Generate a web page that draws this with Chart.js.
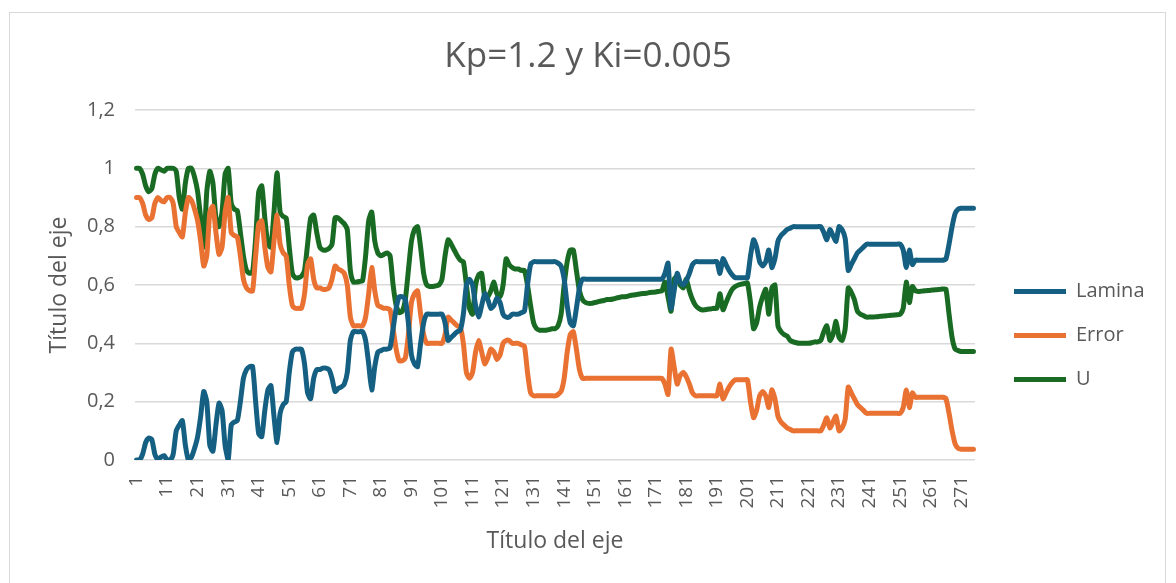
<!DOCTYPE html>
<html>
<head>
<meta charset="utf-8">
<script src="https://cdn.jsdelivr.net/npm/chart.js@4.4.1/dist/chart.umd.min.js"></script>
<style>
  html, body { margin: 0; padding: 0; background: #ffffff; }
  #frame { position: absolute; left: 9px; top: 12px; width: 1157px; height: 600px; border: 1px solid #d9d9d9; box-sizing: border-box; }
  #wrap { position: absolute; left: 0; top: 0; width: 1176px; height: 583px; }
</style>
</head>
<body>
<div id="frame"></div>
<div id="wrap"><canvas id="c"></canvas></div>
<script>
const chartTitle = 'Kp=1.2 y Ki=0.005';
const xAxisTitle = 'Título del eje';
const yAxisTitle = 'Título del eje';
const seriesNames = ['Lamina', 'Error', 'U'];
const yTicks = [0, 0.2, 0.4, 0.6, 0.8, 1, 1.2];

const lamina = [
  0, 0, 0.02, 0.06, 0.075, 0.07, 0.02, 0.0, 0.01, 0.015,
  0.0, 0.0, 0.02, 0.10, 0.12, 0.135, 0.05, 0.0, 0.01, 0.04,
  0.08, 0.15, 0.235, 0.2, 0.05, 0.03, 0.12, 0.195, 0.17, 0.05,
  0.0, 0.12, 0.13, 0.135, 0.2, 0.28, 0.31, 0.32, 0.32, 0.2,
  0.09, 0.08, 0.17, 0.24, 0.255, 0.15, 0.06, 0.16, 0.19, 0.2,
  0.3, 0.37, 0.38, 0.38, 0.38, 0.33, 0.23, 0.21, 0.28, 0.31,
  0.31, 0.315, 0.315, 0.31, 0.28, 0.235, 0.245, 0.25, 0.26, 0.3,
  0.41, 0.44, 0.44, 0.44, 0.44, 0.41, 0.33, 0.24, 0.32, 0.37,
  0.375, 0.38, 0.38, 0.385, 0.45, 0.52, 0.56, 0.56, 0.55, 0.47,
  0.36, 0.33, 0.32, 0.4, 0.47, 0.5, 0.5, 0.5, 0.5, 0.5,
  0.5, 0.47, 0.41, 0.42, 0.43, 0.44, 0.445, 0.5, 0.6, 0.62,
  0.6, 0.53, 0.49, 0.53, 0.57, 0.55, 0.52, 0.53, 0.555, 0.54,
  0.5, 0.49, 0.49, 0.5, 0.5, 0.5, 0.505, 0.51, 0.6, 0.67,
  0.68, 0.68, 0.68, 0.68, 0.68, 0.68, 0.68, 0.68, 0.675, 0.665,
  0.62, 0.53, 0.47, 0.46, 0.52, 0.59, 0.62, 0.62, 0.62, 0.62,
  0.62, 0.62, 0.62, 0.62, 0.62, 0.62, 0.62, 0.62, 0.62, 0.62,
  0.62, 0.62, 0.62, 0.62, 0.62, 0.62, 0.62, 0.62, 0.62, 0.62,
  0.62, 0.62, 0.62, 0.64, 0.675, 0.52, 0.58, 0.64, 0.61, 0.6,
  0.615, 0.64, 0.67, 0.68, 0.68, 0.68, 0.68, 0.68, 0.68, 0.68,
  0.68, 0.64, 0.69, 0.67, 0.65, 0.635, 0.625, 0.625, 0.625, 0.625,
  0.625, 0.7, 0.755, 0.73, 0.68, 0.665, 0.68, 0.72, 0.66, 0.69,
  0.75, 0.77, 0.78, 0.79, 0.795, 0.8, 0.8, 0.8, 0.8, 0.8,
  0.8, 0.8, 0.8, 0.8, 0.8, 0.78, 0.755, 0.79, 0.77, 0.75,
  0.8, 0.79, 0.76, 0.65, 0.67, 0.69, 0.71, 0.72, 0.73, 0.74,
  0.74, 0.74, 0.74, 0.74, 0.74, 0.74, 0.74, 0.74, 0.74, 0.74,
  0.74, 0.72, 0.66, 0.72, 0.67, 0.685, 0.685, 0.685, 0.685, 0.685,
  0.685, 0.685, 0.685, 0.685, 0.685, 0.69, 0.74, 0.8, 0.845, 0.86,
  0.863, 0.863, 0.863, 0.863, 0.863
];

const error = [
  0.9, 0.9, 0.88, 0.84, 0.825, 0.83, 0.88, 0.9, 0.89, 0.885,
  0.9, 0.9, 0.88, 0.8, 0.78, 0.765, 0.85, 0.9, 0.89, 0.86,
  0.82, 0.75, 0.665, 0.7, 0.85, 0.87, 0.78, 0.705, 0.73, 0.85,
  0.9, 0.78, 0.77, 0.765, 0.7, 0.62, 0.59, 0.58, 0.58, 0.7,
  0.81, 0.82, 0.73, 0.66, 0.645, 0.75, 0.84, 0.74, 0.71, 0.7,
  0.6, 0.53, 0.52, 0.52, 0.52, 0.57, 0.67, 0.69, 0.62, 0.59,
  0.59, 0.585, 0.585, 0.59, 0.62, 0.665, 0.655, 0.65, 0.64, 0.6,
  0.49, 0.46, 0.46, 0.46, 0.46, 0.49, 0.57, 0.66, 0.58, 0.53,
  0.525, 0.52, 0.52, 0.515, 0.45, 0.38, 0.34, 0.34, 0.35, 0.43,
  0.54, 0.57, 0.58, 0.5, 0.43, 0.4, 0.4, 0.4, 0.4, 0.4,
  0.4, 0.43, 0.49, 0.48, 0.47, 0.46, 0.455, 0.4, 0.3, 0.28,
  0.3, 0.37, 0.41, 0.37, 0.33, 0.35, 0.38, 0.37, 0.345, 0.36,
  0.4, 0.41, 0.41, 0.4, 0.4, 0.4, 0.395, 0.39, 0.3, 0.23,
  0.22, 0.22, 0.22, 0.22, 0.22, 0.22, 0.22, 0.22, 0.225, 0.235,
  0.28, 0.37, 0.43, 0.44, 0.38, 0.31, 0.28, 0.28, 0.28, 0.28,
  0.28, 0.28, 0.28, 0.28, 0.28, 0.28, 0.28, 0.28, 0.28, 0.28,
  0.28, 0.28, 0.28, 0.28, 0.28, 0.28, 0.28, 0.28, 0.28, 0.28,
  0.28, 0.28, 0.28, 0.26, 0.225, 0.38, 0.32, 0.26, 0.29, 0.3,
  0.285, 0.26, 0.23, 0.22, 0.22, 0.22, 0.22, 0.22, 0.22, 0.22,
  0.22, 0.26, 0.21, 0.23, 0.25, 0.265, 0.275, 0.275, 0.275, 0.275,
  0.275, 0.2, 0.145, 0.17, 0.22, 0.235, 0.22, 0.18, 0.24, 0.21,
  0.15, 0.13, 0.12, 0.11, 0.105, 0.1, 0.1, 0.1, 0.1, 0.1,
  0.1, 0.1, 0.1, 0.1, 0.1, 0.12, 0.145, 0.11, 0.13, 0.15,
  0.1, 0.11, 0.14, 0.25, 0.23, 0.21, 0.19, 0.18, 0.17, 0.16,
  0.16, 0.16, 0.16, 0.16, 0.16, 0.16, 0.16, 0.16, 0.16, 0.16,
  0.16, 0.18, 0.24, 0.18, 0.23, 0.215, 0.215, 0.215, 0.215, 0.215,
  0.215, 0.215, 0.215, 0.215, 0.215, 0.21, 0.16, 0.1, 0.055, 0.04,
  0.037, 0.037, 0.037, 0.037, 0.037
];

const u = [
  1.0, 1.0, 0.98, 0.94, 0.92, 0.93, 0.98, 1.0, 0.995, 0.99,
  1.0, 1.0, 1.0, 0.99, 0.9, 0.86, 0.95, 1.0, 1.0, 0.97,
  0.92, 0.83, 0.73, 0.92, 0.99, 0.95, 0.83, 0.8, 0.85, 0.98,
  1.0, 0.88, 0.86, 0.855, 0.78, 0.7, 0.65, 0.64, 0.645, 0.76,
  0.92, 0.94, 0.83, 0.74, 0.73, 0.85, 0.985, 0.85, 0.835, 0.83,
  0.73, 0.64, 0.625, 0.625, 0.63, 0.65, 0.74, 0.83, 0.84, 0.78,
  0.73, 0.72, 0.72, 0.725, 0.74, 0.83, 0.83, 0.82, 0.81, 0.79,
  0.65, 0.61, 0.61, 0.612, 0.615, 0.7, 0.82, 0.85, 0.75, 0.71,
  0.7, 0.705, 0.71, 0.7, 0.6, 0.53, 0.505, 0.51, 0.55, 0.65,
  0.75, 0.79, 0.8, 0.73, 0.64, 0.6, 0.595, 0.595, 0.597, 0.6,
  0.62, 0.7, 0.755, 0.74, 0.72, 0.7, 0.685, 0.68, 0.6, 0.52,
  0.5, 0.6, 0.635, 0.64, 0.56, 0.56, 0.58, 0.61, 0.57, 0.56,
  0.6, 0.69, 0.67, 0.66, 0.655, 0.655, 0.65, 0.65, 0.6, 0.53,
  0.47, 0.45, 0.445, 0.445, 0.445, 0.447, 0.45, 0.45, 0.46, 0.5,
  0.6, 0.68, 0.72, 0.72, 0.65, 0.58, 0.55, 0.54, 0.537, 0.537,
  0.54, 0.542, 0.545, 0.547, 0.55, 0.55, 0.552, 0.555, 0.557, 0.56,
  0.56, 0.562, 0.565, 0.566, 0.568, 0.57, 0.571, 0.572, 0.574, 0.575,
  0.576, 0.578, 0.58, 0.61, 0.56, 0.51, 0.62, 0.63, 0.6, 0.59,
  0.62, 0.58, 0.55, 0.53, 0.52, 0.515, 0.515, 0.517, 0.518, 0.52,
  0.52, 0.57, 0.515, 0.54, 0.565, 0.585, 0.595, 0.6, 0.603, 0.605,
  0.607, 0.54, 0.45, 0.47, 0.525, 0.56, 0.585, 0.5, 0.59, 0.6,
  0.46, 0.44, 0.43, 0.425, 0.41, 0.405, 0.402, 0.4, 0.4, 0.4,
  0.4, 0.402, 0.405, 0.405, 0.41, 0.44, 0.46, 0.41, 0.43, 0.475,
  0.42, 0.41, 0.45, 0.59, 0.575, 0.55, 0.51, 0.5, 0.495, 0.49,
  0.49, 0.49, 0.491, 0.492, 0.493, 0.494, 0.495, 0.496, 0.497, 0.498,
  0.5, 0.52, 0.61, 0.54, 0.595, 0.58, 0.578, 0.579, 0.58, 0.581,
  0.582, 0.583, 0.584, 0.585, 0.586, 0.585, 0.5, 0.42, 0.38, 0.375,
  0.372, 0.372, 0.372, 0.372, 0.372
];

const categories = [];
for (let i = 1; i <= lamina.length; i++) categories.push(String(i));

const colors = ['#156082', '#E97132', '#196B24'];
const textColor = '#595959';
const fontFamily = '"Open Sans", "Liberation Sans", Arial, sans-serif';

function ds(label, data, color) {
  return {
    label, data,
    borderColor: color, backgroundColor: color,
    borderWidth: 5, pointRadius: 0, pointHoverRadius: 0,
    tension: 0.2, borderJoinStyle: 'round', borderCapStyle: 'round',
    pointStyle: 'line'
  };
}

const legendShift = {
  id: 'legendShift',
  beforeInit(chart) {
    const lg = chart.legend;
    if (!lg) return;
    const fit = lg.fit;
    lg.fit = function () { fit.call(this); if (!this.isHorizontal()) this.width = 201; };
  },
  afterLayout(chart) {
    const lg = chart.legend;
    if (!lg) return;
    lg.left += 15; lg.right += 15;
    lg.top += 44; lg.bottom += 44;
  }
};

new Chart(document.getElementById('c'), {
  type: 'line',
  data: {
    labels: categories,
    datasets: [
      ds(seriesNames[0], lamina, colors[0]),
      ds(seriesNames[1], error, colors[1]),
      ds(seriesNames[2], u, colors[2])
    ]
  },
  plugins: [legendShift],
  options: {
    responsive: true,
    maintainAspectRatio: false,
    animation: false,
    layout: { padding: { left: 0, right: 0, top: 0, bottom: 0 } },
    plugins: {
      title: {
        display: true, text: chartTitle, color: textColor,
        font: { family: fontFamily, size: 35, weight: 'normal' },
        padding: { top: 36, bottom: 32 }
      },
      legend: {
        position: 'right',
        labels: {
          color: textColor,
          font: { family: fontFamily, size: 20 },
          usePointStyle: true, pointStyle: 'line', pointStyleWidth: 52,
          padding: 24
        }
      },
      tooltip: { enabled: false }
    },
    scales: {
      x: {
        offset: true,
        grid: { display: false, drawTicks: false },
        border: { display: false },
        ticks: {
          color: textColor, font: { family: fontFamily, size: 19 },
          autoSkip: false, maxRotation: 90, minRotation: 90, padding: 16,
          callback: function (v, i) { return (i % 10 === 0) ? categories[i] : null; }
        },
        title: { display: true, text: xAxisTitle, color: textColor, font: { family: fontFamily, size: 23 }, padding: { top: 4, bottom: 28 } },
        afterFit(scale) { scale.height = 123; }
      },
      y: {
        min: 0, max: 1.2,
        afterBuildTicks(scale) { scale.ticks = yTicks.map(v => ({ value: v })); },
        grid: { color: '#d9d9d9', lineWidth: 1.5, drawTicks: false },
        border: { display: false },
        ticks: {
          color: textColor, font: { family: fontFamily, size: 20 }, padding: 20,
          callback: v => String(Math.round(v * 10) / 10).replace('.', ',')
        },
        title: { display: true, text: yAxisTitle, color: textColor, font: { family: fontFamily, size: 23 }, padding: { top: 46, bottom: 4 } },
        afterFit(scale) { scale.width = 135; }
      }
    }
  }
});
</script>
</body>
</html>
